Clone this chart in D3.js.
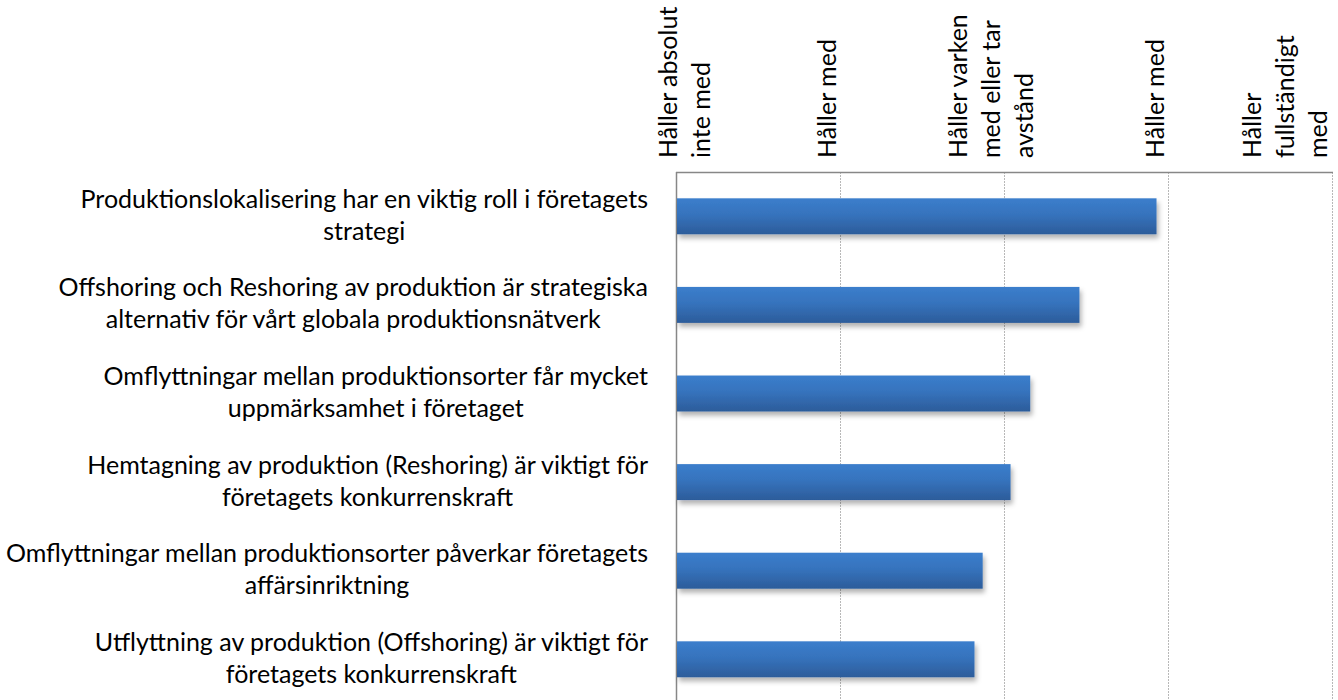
<!DOCTYPE html>
<html lang="sv">
<head>
<meta charset="utf-8">
<title>Produktionslokalisering</title>
<script src="https://cdn.jsdelivr.net/npm/d3@7"></script>
<style>
  body { margin: 0; background: #fff; }
  svg { display: block; }
  text { font-family: Lato, "Open Sans", sans-serif; fill: #000; }
</style>
</head>
<body>
<script>
// statements, top to bottom
var statements = [
  ["Produktionslokalisering har en viktig roll i företagets", "strategi"],
  ["Offshoring och Reshoring av produktion är strategiska", "alternativ för vårt globala produktionsnätverk"],
  ["Omflyttningar mellan produktionsorter får mycket", "uppmärksamhet i företaget"],
  ["Hemtagning av produktion (Reshoring) är viktigt för", "företagets konkurrenskraft"],
  ["Omflyttningar mellan produktionsorter påverkar företagets", "affärsinriktning"],
  ["Utflyttning av produktion (Offshoring) är viktigt för", "företagets konkurrenskraft"]
];
// mean answer on the 1-5 scale
var values = [3.93, 3.46, 3.16, 3.04, 2.87, 2.82];
var scaleSteps = [1, 2, 3, 4, 5];
var scaleLabels = [
  ["Håller absolut", "inte med"],
  ["Håller med"],
  ["Håller varken", "med eller tar", "avstånd"],
  ["Håller med"],
  ["Håller", "fullständigt", "med"]
];

var W = 1338, H = 700;
var plotL = 676, plotR = 1332, plotT = 172, plotB = 703.6;
var fs = 25, lineH = 32;

var svg = d3.select("body").append("svg")
  .attr("width", W)
  .attr("height", H);

var defs = svg.append("defs");
var grad = defs.append("linearGradient")
  .attr("id", "barFill")
  .attr("x1", 0).attr("y1", 0).attr("x2", 0).attr("y2", 1);
grad.append("stop").attr("offset", "0%").attr("stop-color", "#3b7ecc");
grad.append("stop").attr("offset", "45%").attr("stop-color", "#3673bd");
grad.append("stop").attr("offset", "100%").attr("stop-color", "#2c5c9a");

var shadow = defs.append("filter")
  .attr("id", "shadow")
  .attr("x", "-5%").attr("y", "-30%").attr("width", "115%").attr("height", "180%");
shadow.append("feDropShadow")
  .attr("dx", 2).attr("dy", 4)
  .attr("stdDeviation", 2.5)
  .attr("flood-color", "#000")
  .attr("flood-opacity", 0.3);

var x = d3.scaleLinear().domain([1, 5]).range([plotL, plotR]);
var y = d3.scaleBand()
  .domain(d3.range(statements.length))
  .range([plotT, plotB])
  .paddingInner(0.594)
  .paddingOuter(0.297);

// gridlines
svg.append("g").attr("class", "grid")
  .selectAll("line")
  .data(scaleSteps.slice(1))
  .enter().append("line")
  .attr("x1", function(d) { return Math.round(x(d)) + 0.5; })
  .attr("x2", function(d) { return Math.round(x(d)) + 0.5; })
  .attr("y1", plotT).attr("y2", H)
  .attr("stroke", "#b8b8b8")
  .attr("stroke-dasharray", "2,1");

// frame lines: top and left
svg.append("line")
  .attr("x1", plotL).attr("x2", plotR + 1)
  .attr("y1", plotT + 0.5).attr("y2", plotT + 0.5)
  .attr("stroke", "#878787").attr("stroke-width", 1.5);
svg.append("line")
  .attr("x1", plotL + 0.5).attr("x2", plotL + 0.5)
  .attr("y1", plotT).attr("y2", H)
  .attr("stroke", "#878787").attr("stroke-width", 1.5);

// bars
svg.append("g").attr("class", "bars")
  .selectAll("rect")
  .data(values)
  .enter().append("rect")
  .attr("x", x(1) + 1)
  .attr("y", function(d, i) { return y(i); })
  .attr("width", function(d) { return x(d) - x(1) - 1; })
  .attr("height", y.bandwidth())
  .attr("fill", "url(#barFill)")
  .attr("filter", "url(#shadow)");

// statement labels, wrapped lines centred on each other, block right-aligned
var labels = svg.append("g").attr("class", "labels")
  .selectAll("text")
  .data(statements)
  .enter().append("text")
  .attr("font-size", fs)
  .attr("text-anchor", "middle");

labels.each(function(lines, i) {
  var t = d3.select(this);
  var cy = y(i) + y.bandwidth() / 2;
  lines.forEach(function(s, k) {
    t.append("tspan")
      .attr("y", cy - 8.5 + k * lineH)
      .text(s);
  });
  var widest = 0;
  t.selectAll("tspan").each(function() {
    widest = Math.max(widest, this.getComputedTextLength());
  });
  t.selectAll("tspan").attr("x", 648 - widest / 2);
});

// scale labels along the top, rotated
var capH = 17, desc = 5, tickLineH = 33;
svg.append("g").attr("class", "ticks")
  .selectAll("g")
  .data(scaleSteps)
  .enter().append("g")
  .each(function(step, i) {
    var lines = scaleLabels[i];
    var n = lines.length;
    var blockW = (n - 1) * tickLineH + capH + desc;
    var first = x(step) - 10 - blockW / 2 + capH;
    first = Math.max(first, x(1) + 1);
    first = Math.min(first, x(5) - 5 - (n - 1) * tickLineH);
    var g = d3.select(this);
    lines.forEach(function(s, k) {
      var bx = first + k * tickLineH;
      g.append("text")
        .attr("font-size", fs)
        .attr("transform", "translate(" + bx + ",158) rotate(-90)")
        .text(s);
    });
  });
</script>
</body>
</html>
